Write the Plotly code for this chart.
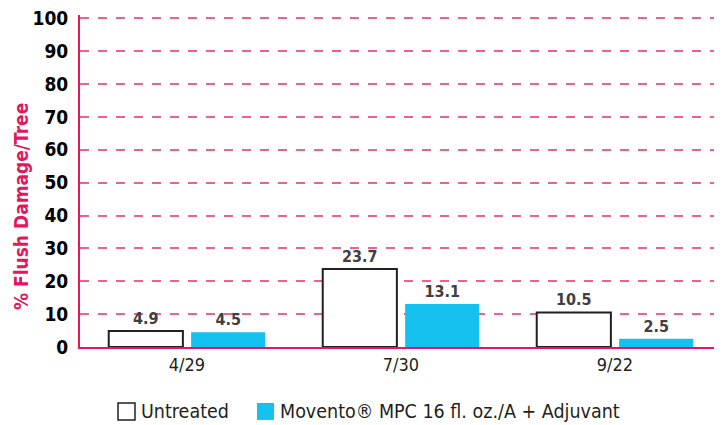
import plotly.graph_objects as go

FAMILY = "DejaVu Sans Condensed, Roboto, Arial"
PINK = "#e3175c"

dates = ["4/29", "7/30", "9/22"]
untreated = [4.9, 23.7, 10.5]
movento = [4.5, 13.1, 2.5]
series_names = ["Untreated", "Movento\u00ae MPC 16 fl. oz./A + Adjuvant"]
y_title = "% Flush Damage/Tree"

# the page body has an 8px margin, so the figure is drawn 8px smaller
OFF = 8
W, H = 722 - OFF, 425 - OFF
# plot area in page pixels (top a bit above 100 so its gridline shows)
YMAX = 101
L, R, B = 80, 722, 347
T = B - (B - 18) * YMAX / 100


def px(x):
    return (x - L) / (R - L)


def py(y):
    return (B - y) / (B - T)


fig = go.Figure()

fig.add_trace(go.Bar(
    x=dates, y=untreated, name=series_names[0],
    marker=dict(color="white", line=dict(color="#231f20", width=2)),
    text=[f"{v:.1f}" for v in untreated], textposition="outside",
    textfont=dict(family=FAMILY, size=16, color="#404040", weight="bold"),
    cliponaxis=False,
))
fig.add_trace(go.Bar(
    x=dates, y=movento, name=series_names[1],
    marker=dict(color="#14c1ef", line=dict(width=0)),
    text=[f"{v:.1f}" for v in movento], textposition="outside",
    textfont=dict(family=FAMILY, size=16, color="#404040", weight="bold"),
    cliponaxis=False,
))

# legend drawn by hand so the swatches are as big as in the original
fig.add_shape(type="rect", xref="paper", yref="paper",
              x0=px(118), x1=px(135), y0=py(420), y1=py(403),
              line=dict(color="#231f20", width=1.5), fillcolor="white")
fig.add_shape(type="rect", xref="paper", yref="paper",
              x0=px(257), x1=px(274), y0=py(420), y1=py(403),
              line=dict(width=0), fillcolor="#14c1ef")
for x0, name in [(139, series_names[0]), (278, series_names[1])]:
    fig.add_annotation(xref="paper", yref="paper", x=px(x0), y=py(412),
                       xanchor="left", yanchor="middle", showarrow=False,
                       text=name, font=dict(family=FAMILY, size=19.5, color="#231f20"))

# y axis title, placed where the original has it
fig.add_annotation(xref="paper", yref="paper", x=px(21), y=py(207),
                   xanchor="center", yanchor="middle", showarrow=False, textangle=-90,
                   text=y_title, font=dict(family=FAMILY, size=19, color=PINK, weight="bold"))

fig.update_layout(
    width=W, height=H,
    paper_bgcolor="white", plot_bgcolor="white",
    margin=dict(l=L - OFF, r=722 - R, t=T - OFF, b=425 - B),
    barmode="group", bargap=0.23, bargroupgap=0.1,
    font=dict(family=FAMILY, color="#231f20"),
    showlegend=False,
    yaxis=dict(
        range=[0, YMAX], dtick=10, showline=True, linecolor=PINK, linewidth=2,
        gridcolor="#ef5f8f", griddash="dash", gridwidth=1.5, zeroline=False,
        automargin=False, ticklabeloverflow="allow",
        ticks="", ticklabelstandoff=6,
        tickfont=dict(family=FAMILY, size=19, color="#000000", weight="bold"),
    ),
    xaxis=dict(
        range=[-0.5, 2.5], showline=True, linecolor=PINK, linewidth=2,
        automargin=False,
        ticks="", tickfont=dict(family=FAMILY, size=18, color="#231f20"),
    ),
)

fig.write_html("out.html")
